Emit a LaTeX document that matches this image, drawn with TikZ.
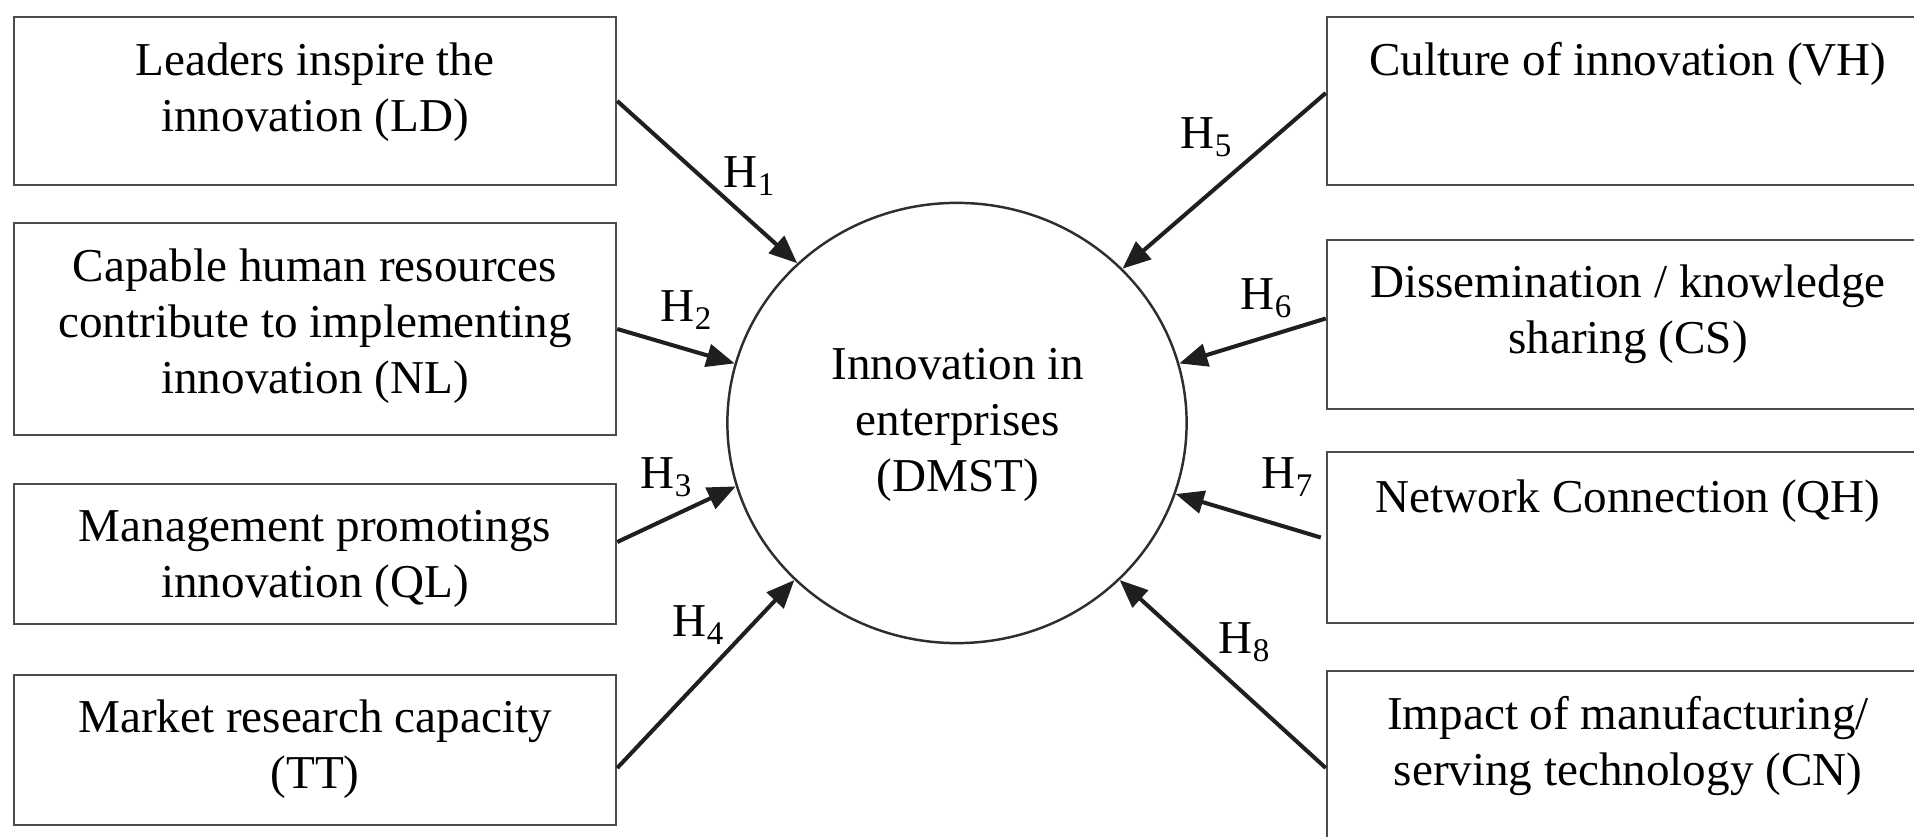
\documentclass[tikz,border=0pt]{standalone}
\usepackage{fontspec}
\setmainfont{Liberation Serif}
\usetikzlibrary{shapes.geometric,arrows.meta,calc}
\definecolor{boxgray}{gray}{0.30}
\definecolor{arrowcol}{gray}{0.12}
\definecolor{ringcol}{gray}{0.18}
\begin{document}
\begin{tikzpicture}[x=0.01cm,y=-0.01cm,
  box/.style={draw=boxgray, line width=0.6pt, rectangle, inner sep=0pt, minimum width=6.02cm},
  txt/.style={align=center, font=\fontsize{13.4}{15.9}\selectfont, inner sep=0pt},
  hyp/.style={font=\fontsize{13.4}{15.9}\selectfont, inner sep=0pt},
  link/.style={-{Triangle[length=8pt,width=6.5pt]}, line width=1.15pt, draw=arrowcol}]
\useasboundingbox (0,0) rectangle (1914,837);
\clip (0,0) rectangle (1914,837);

% central construct
\node[ellipse, draw=ringcol, line width=0.7pt, inner sep=0pt,
      minimum width=4.59cm, minimum height=4.40cm] (C) at (957,423) {};
\node[txt] (Ct) at (958,425) {Innovation in\\enterprises\\(DMST)};

% factor boxes, left column
\node[box, minimum height=1.68cm] (LD) at (315,101) {};
\node[box, minimum height=2.12cm] (NL) at (315,329) {};
\node[box, minimum height=1.40cm] (QL) at (315,554) {};
\node[box, minimum height=1.50cm] (TT) at (315,750) {};
\node[txt] (LDt) at (315,92)  {Leaders inspire the\\innovation (LD)};
\node[txt] (NLt) at (315,326) {Capable human resources\\contribute to implementing\\innovation (NL)};
\node[txt] (QLt) at (315,559) {Management promotings\\innovation (QL)};
\node[txt] (TTt) at (315,749) {Market research capacity\\(TT)};

% factor boxes, right column
\node[box, minimum height=1.68cm] (VH) at (1628,101) {};
\node[box, minimum height=1.69cm] (CS) at (1628,324.5) {};
\node[box, minimum height=1.71cm] (QH) at (1628,537.5) {};
\node[box, minimum height=1.94cm] (CN) at (1628,768) {};
\node[txt] (VHt) at (1628,64)  {Culture of innovation (VH)};
\node[txt] (CSt) at (1628,314) {Dissemination / knowledge\\sharing (CS)};
\node[txt] (QHt) at (1628,501) {Network Connection (QH)};
\node[txt] (CNt) at (1628,746) {Impact of manufacturing/\\serving technology (CN)};

% hypotheses
\draw[link] (LD.east) -- (C.135.9);
\draw[link] (NL.east) -- (C.165.2);
\draw[link] ($(QL.east)+(0,-12)$) -- (C.196.4);
\draw[link] ($(TT.east)+(0,18)$) -- (C.224.5);
\draw[link] ($(VH.west)+(0,-8)$) -- (C.43.3);
\draw[link] ($(CS.west)+(0,-6)$) -- (C.15.5);
\draw[link] ($(QH.west)+(-5,0)$) -- (C.342.3);
\draw[link] (CN.west) -- (C.316.4);

\node[hyp] (h1) at (750,176) {H\textsubscript{1}};
\node[hyp] (h2) at (687,310) {H\textsubscript{2}};
\node[hyp] (h3) at (667,477) {H\textsubscript{3}};
\node[hyp] (h4) at (699,625) {H\textsubscript{4}};
\node[hyp] (h5) at (1207,137) {H\textsubscript{5}};
\node[hyp] (h6) at (1267,298) {H\textsubscript{6}};
\node[hyp] (h7) at (1288,477) {H\textsubscript{7}};
\node[hyp] (h8) at (1245,642) {H\textsubscript{8}};
\end{tikzpicture}
\end{document}
